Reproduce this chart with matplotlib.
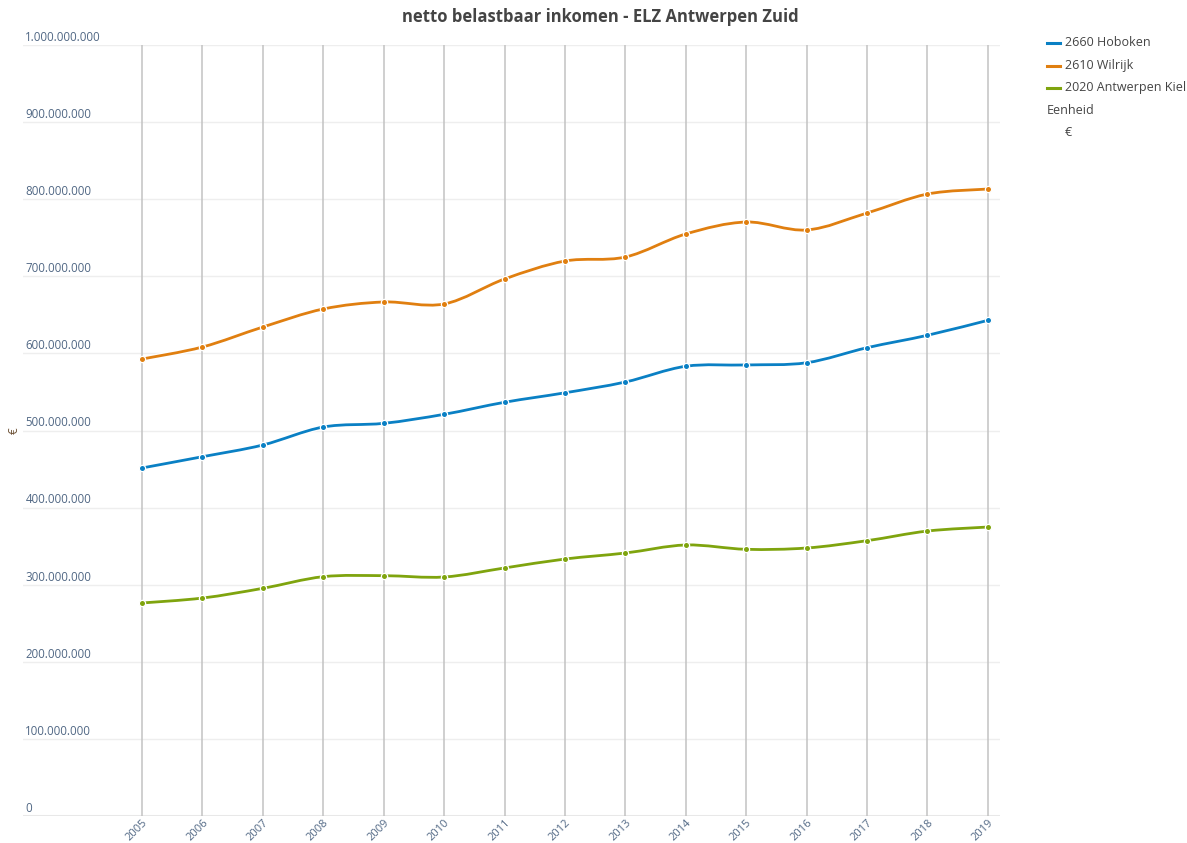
import matplotlib.pyplot as plt
from matplotlib.path import Path
from matplotlib.patches import PathPatch
from matplotlib.lines import Line2D
import numpy as np

plt.rcParams['font.family'] = ['Open Sans', 'DejaVu Sans']

# data, in millions of euro
years = list(range(2005, 2020))
hoboken = [451.4, 466.0, 481.2, 504.5, 509.3, 521.0, 536.6, 548.9,
           562.9, 583.3, 585.0, 587.9, 607.4, 623.5, 642.9]
wilrijk = [592.7, 608.3, 634.2, 657.6, 666.7, 664.1, 696.5, 719.8,
           725.0, 754.9, 770.4, 760.1, 782.1, 806.7, 813.2]
kiel = [276.3, 282.7, 295.3, 310.4, 311.7, 310.0, 321.7, 333.3,
        341.1, 351.5, 345.9, 347.6, 357.1, 369.6, 374.8]
series_names = ['2660 Hoboken', '2610 Wilrijk', '2020 Antwerpen Kiel']
series_values = [hoboken, wilrijk, kiel]
colors = ['#0a80c4', '#e07f10', '#7fa40e']

TEXT = '#506784'

fig = plt.figure(figsize=(11.87, 8.43), dpi=100, facecolor='white')
ax = fig.add_axes([23 / 1187, 1 - 816 / 843, (1000 - 23) / 1187, (816 - 45) / 843])
ax.set_xlim(2003.03, 2019.2)
ax.set_ylim(0, 1e9)


def spline_path(x, y, t=1.0):
    # catmull-rom style spline through the points, as cubic bezier segments
    x = np.asarray(x, float)
    y = np.asarray(y, float)
    sx, sy = 60.43, 771 / 1e9
    px, py = x * sx, y * sy
    verts = [(x[0], y[0])]
    codes = [Path.MOVETO]
    n = len(x)
    for i in range(n - 1):
        p0 = (px[i - 1], py[i - 1]) if i > 0 else (px[i], py[i])
        p1 = (px[i], py[i])
        p2 = (px[i + 1], py[i + 1])
        p3 = (px[i + 2], py[i + 2]) if i + 2 < n else p2
        c1 = (p1[0] + (p2[0] - p0[0]) * t / 6, p1[1] + (p2[1] - p0[1]) * t / 6)
        c2 = (p2[0] - (p3[0] - p1[0]) * t / 6, p2[1] - (p3[1] - p1[1]) * t / 6)
        for c in (c1, c2, p2):
            verts.append((c[0] / sx, c[1] / sy))
            codes.append(Path.CURVE4)
    return Path(verts, codes)


for name, vals, col in zip(series_names, series_values, colors):
    v = np.array(vals) * 1e6
    path = spline_path(years, v)
    ax.add_patch(PathPatch(path, facecolor='none', edgecolor='white', lw=3.8, zorder=3))
    ax.add_patch(PathPatch(path, facecolor='none', edgecolor=col, lw=2.0, zorder=4))
    ax.plot(years, v, 'o', color=col, markersize=4.5, markeredgecolor='white',
            markeredgewidth=0.9, zorder=5)

# grid
yticks = np.arange(0, 1.01e9, 1e8)
for yv in yticks[1:]:
    ax.axhline(yv, color='#eeeeee', lw=1, zorder=1)
ax.axhline(0, color='#e8e8e8', lw=1.5, zorder=1)
for yr in years:
    ax.axvline(yr, color='#c2c2c2', lw=1.1, zorder=2)

for s in ax.spines.values():
    s.set_visible(False)
ax.set_yticks([])
ax.set_xticks(years)
ax.set_xticklabels([str(y) for y in years], rotation=45, ha='right',
                   rotation_mode='anchor', fontsize=8, color=TEXT)
ax.tick_params(axis='x', length=0, pad=1)

# y labels inside the plot, just above the gridlines
fmt = lambda v: '{:,.0f}'.format(v).replace(',', '.')
for yv in yticks:
    ax.text(2003.07, yv + 1.5e6, fmt(yv), fontsize=8.3, color=TEXT,
            ha='left', va='bottom', zorder=6)

fig.text(14 / 1187, 1 - 431 / 843, '€', rotation=90, fontsize=8.5,
         color='#6b4f33', ha='center', va='center')

fig.text(600 / 1187, 1 - 17 / 843, 'netto belastbaar inkomen - ELZ Antwerpen Zuid',
         fontsize=12, fontweight='bold', color='#444444', ha='center', va='center')

# legend
for i, (name, col) in enumerate(zip(series_names, colors)):
    yy = 1 - (43 + i * 22.5) / 843
    fig.add_artist(Line2D([1047 / 1187, 1060 / 1187], [yy, yy], color=col, lw=2.2))
    fig.text(1065 / 1187, yy, name, fontsize=9, color='#444444', va='center')
fig.text(1047 / 1187, 1 - 110 / 843, 'Eenheid', fontsize=9, color='#444444', va='center')
fig.text(1065 / 1187, 1 - 132 / 843, '€', fontsize=9, color='#444444', va='center')

fig.savefig('out.png', dpi=100, facecolor='white')
